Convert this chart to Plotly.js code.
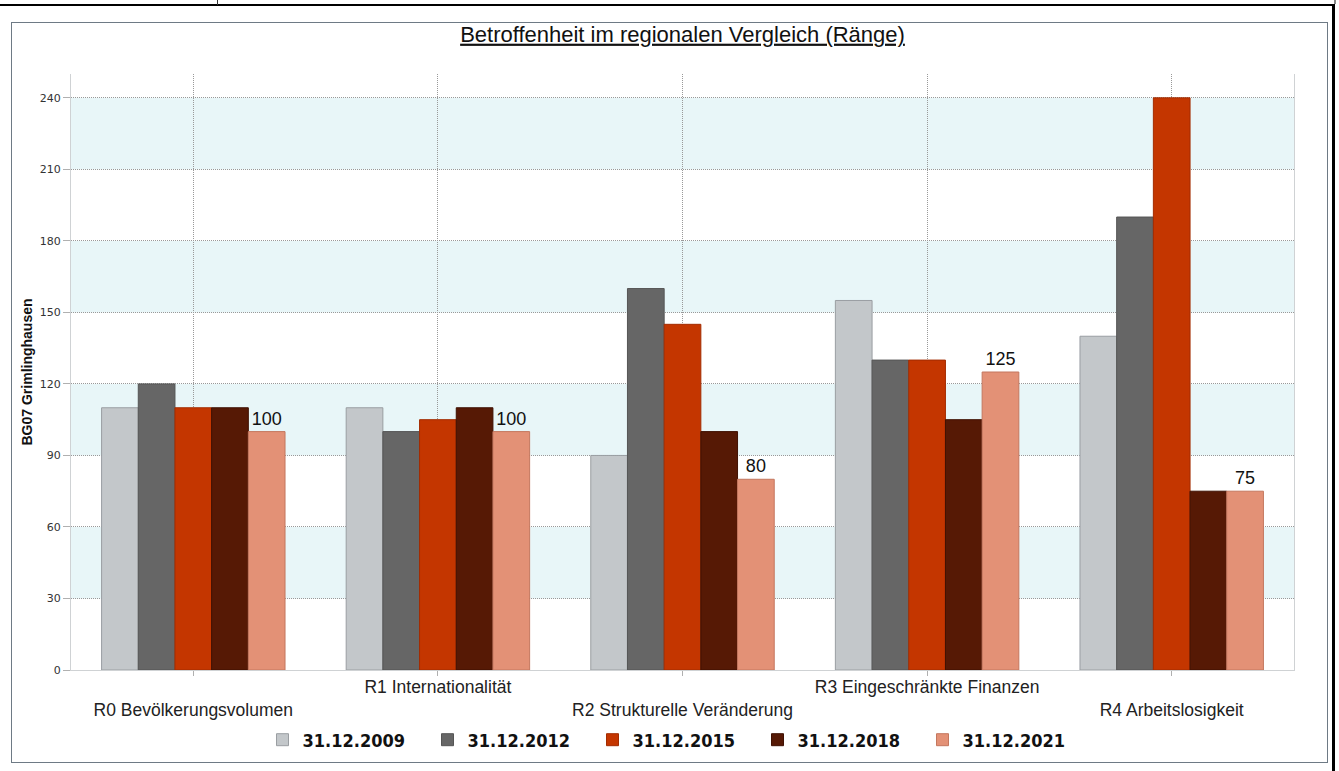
<!DOCTYPE html>
<html>
<head>
<meta charset="utf-8">
<script src="https://cdn.plot.ly/plotly-3.0.1.min.js"></script>
<style>
  html, body { margin: 0; padding: 0; background: #fff; }
  #wrap { position: relative; width: 1339px; height: 771px; overflow: hidden; }
  #chart { position: absolute; left: 0; top: 0; width: 1339px; height: 771px; }
  .frame { position: absolute; pointer-events: none; z-index: 5; }
</style>
</head>
<body>
<div id="wrap">
  <div id="chart"></div>
  <div class="frame" style="left:0;top:4px;width:1334px;height:2px;background:#000;"></div>
  <div class="frame" style="left:217px;top:0;width:1px;height:5px;background:#333;"></div>
  <div class="frame" style="left:1332px;top:4px;width:3px;height:767px;background:#000;"></div>
  <div class="frame" style="left:1334px;top:0;width:2px;height:4px;background:#888;"></div>
  <div class="frame" style="left:11px;top:22px;width:1315px;height:739px;border:1.5px solid #6e7a85;"></div>
</div>
<script>
// ---- data ----
const categories = [
  "R0 Bevölkerungsvolumen",
  "R1 Internationalität",
  "R2 Strukturelle Veränderung",
  "R3 Eingeschränkte Finanzen",
  "R4 Arbeitslosigkeit"
];
const seriesNames = ["31.12.2009", "31.12.2012", "31.12.2015", "31.12.2018", "31.12.2021"];
const v2009 = [110, 110, 90, 155, 140];
const v2012 = [120, 100, 160, 130, 190];
const v2015 = [110, 105, 145, 130, 240];
const v2018 = [110, 110, 100, 105, 75];
const v2021 = [100, 100, 80, 125, 75];
const yTickVals = [0, 30, 60, 90, 120, 150, 180, 210, 240];
const bandRanges = [[30, 60], [90, 120], [150, 180], [210, 240]];

// ---- styles ----
const fillColors = ["#c3c7ca", "#666666", "#c43600", "#561905", "#e39176"];
const lineColors = ["#9a9ea2", "#555555", "#a32c00", "#3f1103", "#c4775e"];
const allValues = [v2009, v2012, v2015, v2018, v2021];

const traces = allValues.map((vals, i) => {
  const t = {
    type: "bar",
    name: seriesNames[i],
    x: categories,
    y: vals,
    marker: { color: fillColors[i], line: { color: lineColors[i], width: 1 } },
    hoverinfo: "skip"
  };
  if (i === 4) {
    t.text = vals.map(String);
    t.textposition = "outside";
    t.textfont = { family: "Liberation Sans, Arial, sans-serif", size: 18, color: "#111" };
    t.cliponaxis = false;
    t.constraintext = "none";
  }
  return t;
});

// staggered category labels: even index pushed one line down
const tickText = categories.map((c, i) => (i % 2 === 0 ? "&nbsp;<br>" + c : c));

const shapes = bandRanges.map(r => ({
  type: "rect", xref: "paper", yref: "y", x0: 0, x1: 1, y0: r[0], y1: r[1],
  fillcolor: "#e8f6f8", line: { width: 0 }, layer: "below"
}));

const layout = {
  width: 1339, height: 771,
  margin: { l: 71, r: 45, t: 74, b: 101 },
  paper_bgcolor: "#ffffff",
  plot_bgcolor: "#ffffff",
  barmode: "group",
  bargap: 0.25,
  bargroupgap: 0,
  showlegend: true,
  title: {
    text: "Betroffenheit im regionalen Vergleich (Ränge)",
    font: { family: "Liberation Sans, Arial, sans-serif", size: 22, color: "#111", lineposition: "under" },
    x: 0.5, xref: "paper", xanchor: "center",
    y: 1 - 34 / 771, yref: "container", yanchor: "middle"
  },
  xaxis: {
    type: "category",
    tickmode: "array",
    tickvals: categories,
    ticktext: tickText,
    tickfont: { family: "Liberation Sans, Arial, sans-serif", size: 17.5, color: "#222" },
    ticklabelstandoff: -4,
    showgrid: true, gridcolor: "#999999", griddash: "1px,1px", gridwidth: 1,
    ticks: "outside", ticklen: 5, tickcolor: "#b0b0b0",
    showline: true, linecolor: "#cfd2d4", linewidth: 1,
    zeroline: false, fixedrange: true
  },
  yaxis: {
    range: [0, 250],
    tickmode: "array",
    tickvals: yTickVals,
    tickfont: { family: "DejaVu Sans, sans-serif", size: 11, color: "#333" },
    showgrid: true, gridcolor: "#999999", griddash: "1px,1px", gridwidth: 1,
    ticks: "outside", ticklen: 7, tickcolor: "#b0b0b0",
    showline: true, linecolor: "#cfd2d4", linewidth: 1, mirror: true,
    zeroline: false, fixedrange: true,
    title: {
      text: "BG07 Grimlinghausen",
      font: { family: "Liberation Sans, Arial, sans-serif", size: 14, color: "#111", weight: "bold" },
      standoff: 3
    }
  },
  legend: {
    orientation: "h",
    x: (675 - 71) / 1223, xanchor: "center",
    y: (670 - 740) / 596, yanchor: "middle",
    entrywidth: 120, entrywidthmode: "pixels",
    font: { family: "DejaVu Sans Condensed, DejaVu Sans, sans-serif", size: 18, color: "#111", weight: "bold" },
    traceorder: "normal",
    bgcolor: "rgba(0,0,0,0)"
  },
  shapes: shapes
};

Plotly.newPlot("chart", traces, layout, { displayModeBar: false, staticPlot: true });
</script>
</body>
</html>
